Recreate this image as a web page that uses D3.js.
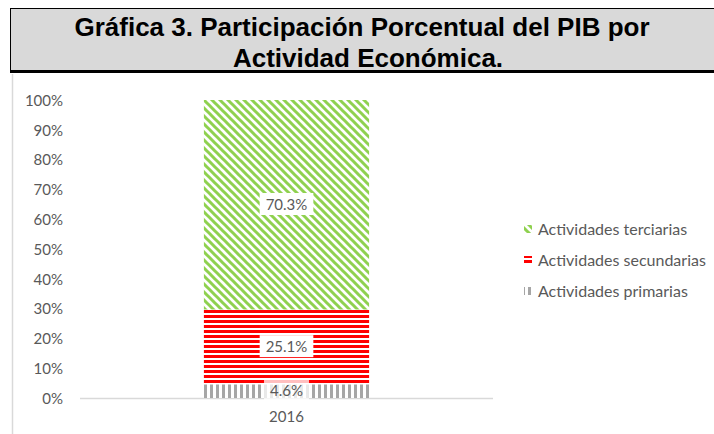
<!DOCTYPE html>
<meta charset="utf-8">
<script src="https://d3js.org/d3.v7.min.js"></script>
<style>
body { margin:0; background:#fff; }
svg { display:block; }
.title { font-family:"Liberation Sans", Arial, sans-serif; font-weight:bold; font-size:26px; fill:#000; }
.axis text, .lbl { font-family:Lato, "Open Sans", sans-serif; font-size:15px; fill:#595959; }
.legend text { font-family:Lato, "Open Sans", sans-serif; font-size:16px; fill:#595959; }
.axis path, .axis line { stroke:none; }
</style>
<body></body>
<script>

var years = ["2016"];
var series = ["Actividades primarias", "Actividades secundarias", "Actividades terciarias"];
var primarias = [4.6];
var secundarias = [25.1];
var terciarias = [70.3];
var yTicks = [0, 10, 20, 30, 40, 50, 60, 70, 80, 90, 100];

var W = 714, H = 434;
var svg = d3.select("body").append("svg").attr("width", W).attr("height", H);

// patterns
var defs = svg.append("defs");
var pGreen = defs.append("pattern").attr("id", "pGreen").attr("patternUnits", "userSpaceOnUse")
  .attr("width", 8).attr("height", 8);
pGreen.append("rect").attr("width", 8).attr("height", 8).attr("fill", "#fff");
pGreen.append("path").attr("d", "M-2,-2 L10,10 M-2,6 L2,10 M6,-2 L10,2")
  .attr("stroke", "#8fd14f").attr("stroke-width", 3);

var pRed = defs.append("pattern").attr("id", "pRed").attr("patternUnits", "userSpaceOnUse")
  .attr("width", 5).attr("height", 5);
pRed.append("rect").attr("width", 5).attr("height", 5).attr("fill", "#fff");
pRed.append("rect").attr("y", 0).attr("width", 5).attr("height", 3).attr("fill", "#ff0000");

var pGray = defs.append("pattern").attr("id", "pGray").attr("patternUnits", "userSpaceOnUse")
  .attr("width", 6).attr("height", 6);
pGray.append("rect").attr("width", 6).attr("height", 6).attr("fill", "#fff");
pGray.append("rect").attr("x", 0).attr("width", 3).attr("height", 6).attr("fill", "#a6a6a6");

// title box
svg.append("rect").attr("x", 10.5).attr("y", 8.5).attr("width", 710).attr("height", 62)
  .attr("fill", "#d9d9d9").attr("stroke", "#000").attr("stroke-width", 1);
svg.append("rect").attr("x", 10).attr("y", 70).attr("width", 710).attr("height", 3).attr("fill", "#000");
svg.append("text").attr("class", "title").attr("x", 362).attr("y", 36).attr("text-anchor", "middle")
  .text("Gráfica 3. Participación Porcentual del PIB por");
svg.append("text").attr("class", "title").attr("x", 368).attr("y", 67).attr("text-anchor", "middle")
  .text("Actividad Económica.");

// chart frame left line
svg.append("line").attr("x1", 12.5).attr("x2", 12.5).attr("y1", 74).attr("y2", H)
  .attr("stroke", "#d9d9d9").attr("stroke-width", 1.5);

var x = d3.scaleBand().domain(years).range([80, 493]).paddingInner(0.6).paddingOuter(0.3);
var y = d3.scaleLinear().domain([0, 100]).range([398, 100]);

svg.append("g").attr("class", "axis")
  .attr("transform", "translate(66,0)")
  .call(d3.axisLeft(y).tickValues(yTicks).tickSize(0).tickPadding(3).tickFormat(function(d) { return d + "%"; }))
  .selectAll("text").attr("dy", "0.35em");

svg.append("line").attr("x1", 80).attr("x2", 493).attr("y1", 398.5).attr("y2", 398.5)
  .attr("stroke", "#d9d9d9").attr("stroke-width", 1.5);

svg.append("g").attr("class", "axis")
  .attr("transform", "translate(0,398)")
  .call(d3.axisBottom(x).tickSize(0).tickPadding(13));

var rows = years.map(function(yr, i) {
  return { year: yr, p: primarias[i], s: secundarias[i], t: terciarias[i] };
});
var stack = d3.stack().keys(["p", "s", "t"])(rows);
var fills = { p: "url(#pGray)", s: "url(#pRed)", t: "url(#pGreen)" };

stack.forEach(function(layer) {
  svg.selectAll(".bar-" + layer.key).data(layer).enter().append("rect")
    .attr("x", function(d) { return x(d.data.year); })
    .attr("width", x.bandwidth())
    .attr("y", function(d) { return y(d[1]); })
    .attr("height", function(d) { return y(d[0]) - y(d[1]); })
    .attr("fill", fills[layer.key]);
});

// data labels
stack.forEach(function(layer) {
  layer.forEach(function(d) {
    var cx = x(d.data.year) + x.bandwidth() / 2;
    var cy = (y(d[0]) + y(d[1])) / 2;
    var v = d[1] - d[0];
    var g = svg.append("g");
    var t = g.append("text").attr("class", "lbl").attr("x", cx).attr("y", cy)
      .attr("text-anchor", "middle").attr("dy", "0.35em").text(v.toFixed(1) + "%");
    var bb = t.node().getBBox();
    g.insert("rect", "text").attr("x", bb.x - 6).attr("y", bb.y - 2)
      .attr("width", bb.width + 12).attr("height", bb.height + 4)
      .attr("fill", "#fff").attr("fill-opacity", layer.key === "p" ? 0.75 : 1);
  });
});

// legend
var legendItems = [
  { name: series[2], fill: "url(#pGreen)" },
  { name: series[1], fill: "url(#pRed)" },
  { name: series[0], fill: "url(#pGray)" }
];
var legend = svg.append("g").attr("class", "legend");
legendItems.forEach(function(d, i) {
  var yy = 229 + i * 31;
  legend.append("rect").attr("x", 524).attr("y", yy - 4).attr("width", 8).attr("height", 8).attr("fill", d.fill);
  legend.append("text").attr("x", 538).attr("y", yy).attr("dy", "0.35em").text(d.name);
});

</script>
